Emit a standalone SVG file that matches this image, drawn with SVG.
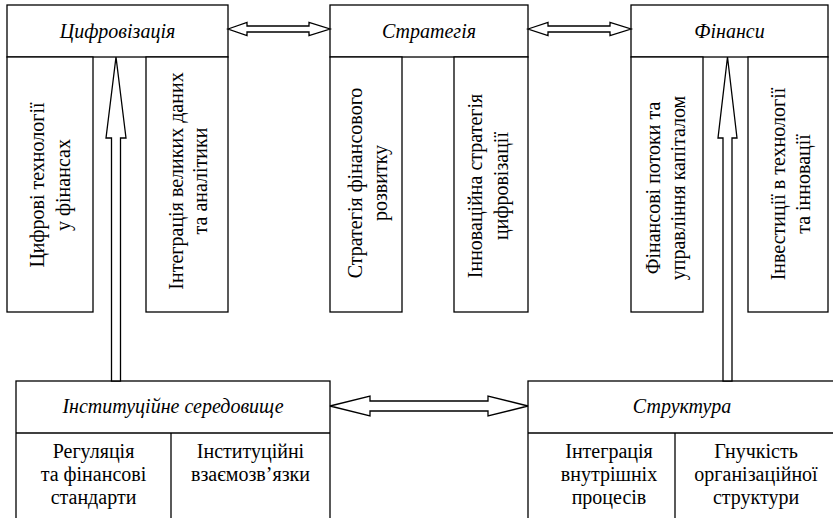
<svg xmlns="http://www.w3.org/2000/svg" width="833" height="518" viewBox="0 0 833 518">
<style>
rect { fill: #fff; stroke: #000; stroke-width: 1.3; }
.ln { stroke: #000; stroke-width: 1.3; fill: none; }
.arr { fill: #fff; stroke: #000; stroke-width: 1.3; stroke-linejoin: miter; }
.h { font-style: italic; }
</style>
<rect x="0" y="0" width="833" height="518" style="fill:#fff;stroke:none"/>
<g font-family="Liberation Serif, Times New Roman, serif" font-size="20" text-anchor="middle" fill="#000">
<g id="cyfrovizatsiia">
  <rect x="7" y="5" width="221" height="52"/>
  <text class="h" x="117.5" y="38">Цифровізація</text>
  <rect x="7" y="57" width="86" height="255"/>
  <rect x="146" y="57" width="82" height="255"/>
  <text transform="translate(43.5,185) rotate(-90)">Цифрові технології</text>
  <text transform="translate(69.5,185) rotate(-90)">у фінансах</text>
  <text transform="translate(183,181) rotate(-90)">Інтеграція великих даних</text>
  <text transform="translate(207,181) rotate(-90)">та аналітики</text>
</g>

<g id="stratehiia">
  <rect x="330" y="5" width="198" height="52"/>
  <text class="h" x="429" y="38">Стратегія</text>
  <rect x="330" y="57" width="72" height="255"/>
  <rect x="454" y="57" width="74" height="255"/>
  <text transform="translate(362,183) rotate(-90)">Стратегія фінансового</text>
  <text transform="translate(387,183) rotate(-90)">розвитку</text>
  <text transform="translate(482,186) rotate(-90)">Інноваційна стратегія</text>
  <text transform="translate(508,186) rotate(-90)">цифровізації</text>
</g>

<g id="finansy">
  <rect x="631" y="5" width="197" height="52"/>
  <text class="h" x="729.5" y="38">Фінанси</text>
  <rect x="631" y="57" width="72" height="255"/>
  <rect x="748" y="57" width="80" height="255"/>
  <text transform="translate(660,188) rotate(-90)">Фінансові потоки та</text>
  <text transform="translate(685,188) rotate(-90)">управління капіталом</text>
  <text transform="translate(785,184) rotate(-90)">Інвестиції в технології</text>
  <text transform="translate(810,184) rotate(-90)">та інновації</text>
</g>

<g id="instytutsiine">
  <rect x="16" y="381" width="314" height="150"/>
  <line class="ln" x1="16" y1="433" x2="330" y2="433"/>
  <line class="ln" x1="171" y1="433" x2="171" y2="531"/>
  <text class="h" x="173" y="413">Інституційне середовище</text>
  <text x="93.5" y="458">Регуляція</text>
  <text x="93.5" y="481">та фінансові</text>
  <text x="93.5" y="504">стандарти</text>
  <text x="250.5" y="458">Інституційні</text>
  <text x="250.5" y="481">взаємозв’язки</text>
</g>

<g id="struktura">
  <rect x="528" y="381" width="310" height="150"/>
  <line class="ln" x1="528" y1="433" x2="838" y2="433"/>
  <line class="ln" x1="675" y1="433" x2="675" y2="531"/>
  <text class="h" x="682" y="413">Структура</text>
  <text x="609" y="458">Інтеграція</text>
  <text x="609" y="481">внутрішніх</text>
  <text x="609" y="504">процесів</text>
  <text x="756" y="458">Гнучкість</text>
  <text x="756" y="481">організаційної</text>
  <text x="756" y="504">структури</text>
</g>
</g>
<g id="connectors">
  <polygon class="arr" points="228,29 247,22.5 247,26 309,26 309,22.5 330,29 309,35.5 309,32 247,32 247,35.5"/>
  <polygon class="arr" points="528,29 548,22.5 548,26 610,26 610,22.5 631,29 610,35.5 610,32 548,32 548,35.5"/>
  <polygon class="arr" points="330,406 370,396 370,401 488,401 488,396 528,406 488,416 488,411 370,411 370,416"/>
  <polygon class="arr" points="116,57 126,138 120.5,138 120.5,381 111.5,381 111.5,138 106,138"/>
  <polygon class="arr" points="727.5,57 737,138 732,138 732,381 723,381 723,138 718,138"/>
</g>
</svg>
